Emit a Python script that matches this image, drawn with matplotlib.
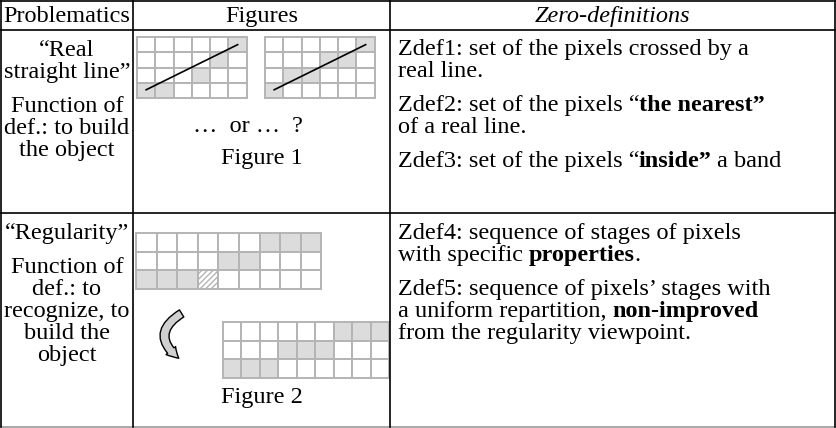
import matplotlib
matplotlib.use('Agg')
import matplotlib.pyplot as plt
from matplotlib.patches import Rectangle, FancyArrowPatch

# table text
headers = ['Problematics', 'Figures', 'Zero-definitions']
prob_row1 = ['\u201cReal', 'straight line\u201d', None, 'Function of', 'def.: to build', 'the object']
prob_row2 = ['\u201cRegularity\u201d', None, 'Function of', 'def.: to', 'recognize, to', 'build the', 'object']

# zero-definitions, each paragraph = list of lines, each line = list of (text, weight)
zdef_row1 = [
    [[('Zdef1: set of the pixels crossed by a', 'normal')],
     [('real line.', 'normal')]],
    [[('Zdef2: set of the pixels \u201c', 'normal'), ('the nearest\u201d', 'bold')],
     [('of a real line.', 'normal')]],
    [[('Zdef3: set of the pixels \u201c', 'normal'), ('inside\u201d', 'bold'), (' a band', 'normal')]],
]
zdef_row2 = [
    [[('Zdef4: sequence of stages of pixels', 'normal')],
     [('with specific ', 'normal'), ('properties', 'bold'), ('.', 'normal')]],
    [[('Zdef5: sequence of pixels\u2019 stages with', 'normal')],
     [('a uniform repartition, ', 'normal'), ('non-improved', 'bold')],
     [('from the regularity viewpoint.', 'normal')]],
]

# pixel grids (1 = grey pixel, 2 = hatched pixel), rows top to bottom
fig1_left = [[0, 0, 0, 0, 0, 1],
             [0, 0, 0, 0, 1, 0],
             [0, 0, 0, 1, 0, 0],
             [1, 1, 0, 0, 0, 0]]
fig1_right = [[0, 0, 0, 0, 0, 1],
              [0, 0, 0, 1, 1, 0],
              [0, 1, 1, 0, 0, 0],
              [1, 0, 0, 0, 0, 0]]
fig2_top = [[0, 0, 0, 0, 0, 0, 1, 1, 1],
            [0, 0, 0, 0, 1, 1, 0, 0, 0],
            [1, 1, 1, 2, 0, 0, 0, 0, 0]]
fig2_bottom = [[0, 0, 0, 0, 0, 0, 1, 1, 1],
               [0, 0, 0, 1, 1, 1, 0, 0, 0],
               [1, 1, 1, 0, 0, 0, 0, 0, 0]]
# real line drawn over figure 1 grids, in cell units (col, row)
line_start = (0.5, 3.45)
line_end = (5.5, 0.5)

FONT = 'Liberation Serif'
FS = 17.5
LS = 22      # line spacing, px
PGAP = 12    # extra gap between paragraphs, px
DPI = 100
SPACE = 0.25 * FS * DPI / 72.0 + 1

fig = plt.figure(figsize=(8.37, 4.28), dpi=DPI)
ax = fig.add_axes([0, 0, 1, 1])
ax.set_xlim(0, 837)
ax.set_ylim(428, 0)
ax.axis('off')
renderer = fig.canvas.get_renderer()


def draw_runs(x, y, runs):
    # mixed regular / bold line, each run starts where the last one ends
    for s, weight in runs:
        lead = len(s) - len(s.lstrip(' '))
        trail = len(s) - len(s.rstrip(' '))
        x += lead * SPACE
        t = ax.text(x, y, s.strip(' '), fontsize=FS, fontweight=weight, family=FONT,
                    va='baseline', ha='left')
        x = t.get_window_extent(renderer).x1 - 1 + trail * SPACE


def draw_grid(x0, y0, cw, ch, cells):
    for r, row in enumerate(cells):
        for c, v in enumerate(row):
            fc = '#dcdcdc' if v == 1 else 'white'
            rect = Rectangle((x0 + c * cw, y0 + r * ch), cw, ch, facecolor=fc,
                             edgecolor='#b4b4b4', lw=1.4,
                             hatch='//////' if v == 2 else None)
            ax.add_patch(rect)


# table frame
x_left, x_c1, x_c2, x_right = 1, 133, 390, 835
y_top, y_head, y_mid, y_bot = 1, 30, 213, 427
for yy in [y_top, y_head, y_mid]:
    ax.plot([x_left, x_right], [yy, yy], color='black', lw=1.2)
ax.plot([x_left, x_right], [y_bot, y_bot], color='#999999', lw=1.2)
for xx in [x_left, x_c1, x_c2, x_right]:
    ax.plot([xx, xx], [y_top, y_bot], color='black', lw=1.2)

# headers
ax.text((x_left + x_c1) / 2, 22, headers[0], fontsize=FS, family=FONT, ha='center', va='baseline')
ax.text((x_c1 + x_c2) / 2, 22, headers[1], fontsize=FS, family=FONT, ha='center', va='baseline')
ax.text((x_c2 + x_right) / 2, 22, headers[2], fontsize=FS, family=FONT, style='italic',
        ha='center', va='baseline')


# problematics column
def draw_centered_lines(lines, y, cx):
    for s in lines:
        if s is None:
            y += PGAP
            continue
        ax.text(cx, y, s, fontsize=FS, family=FONT, ha='center', va='baseline')
        y += LS


draw_centered_lines(prob_row1, 56, (x_left + x_c1) / 2)
draw_centered_lines(prob_row2, 239, (x_left + x_c1) / 2)


# zero-definitions column
def draw_paragraphs(paras, y, x):
    for p in paras:
        for line in p:
            draw_runs(x, y, line)
            y += LS
        y += PGAP


draw_paragraphs(zdef_row1, 55, 398)
draw_paragraphs(zdef_row2, 239, 398)

# figure 1
cw1, ch1 = 18.3, 15.3
for gx, grid in [(137, fig1_left), (265, fig1_right)]:
    draw_grid(gx, 37, cw1, ch1, grid)
    ax.plot([gx + line_start[0] * cw1, gx + line_end[0] * cw1],
            [37 + line_start[1] * ch1, 37 + line_end[1] * ch1], color='black', lw=1.2)
ax.text(237, 132, '\u2026  or \u2026', fontsize=FS, family=FONT, ha='center', va='baseline')
ax.text(297, 132, '?', fontsize=FS, family=FONT, ha='center', va='baseline')
ax.text(262, 164, 'Figure 1', fontsize=FS, family=FONT, ha='center', va='baseline')

# figure 2
draw_grid(136, 233, 20.6, 18.7, fig2_top)
draw_grid(223, 322, 18.5, 18.7, fig2_bottom)
arrow = FancyArrowPatch((184, 312), (181, 360), connectionstyle='arc3,rad=0.75',
                        arrowstyle='simple,head_width=9,head_length=8,tail_width=6',
                        facecolor='#d0d0d0', edgecolor='black', lw=1.0, mutation_scale=1)
ax.add_patch(arrow)
ax.text(262, 403, 'Figure 2', fontsize=FS, family=FONT, ha='center', va='baseline')

fig.savefig('out.png', dpi=DPI)
